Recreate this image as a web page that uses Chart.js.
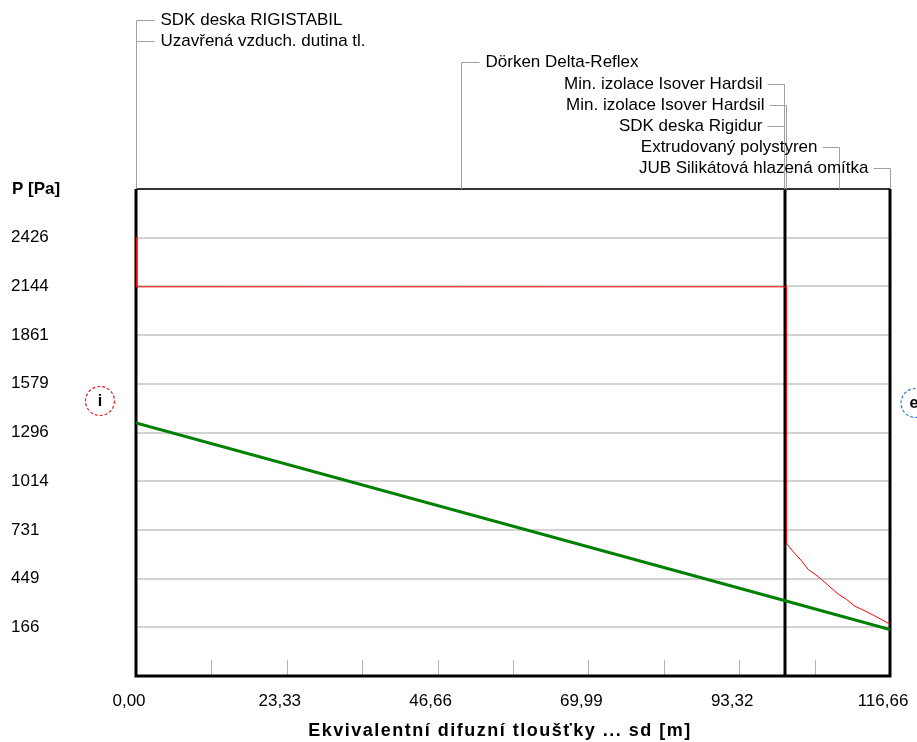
<!DOCTYPE html>
<html><head><meta charset="utf-8">
<script src="https://cdn.jsdelivr.net/npm/chart.js@4/dist/chart.umd.min.js"></script>
<style>html,body{margin:0;padding:0;background:#fff;overflow:hidden}#wrap{width:917px;height:742px;position:relative}</style>
</head><body><div id="wrap"><canvas id="c" width="917" height="742"></canvas></div>
<script>
// ---- data ----
const xTickValues = [0, 23.33, 46.66, 69.99, 93.32, 116.66];
const minorTickValues = [11.67, 23.33, 35.0, 46.66, 58.33, 69.99, 81.66, 93.32, 104.99];
const yTickValues = [166, 449, 731, 1014, 1296, 1579, 1861, 2144, 2426];
const saturatedSd = [0.1, 0.1, 100.65, 100.65, 101.7, 102.99, 104.02, 105.05, 106.09, 107.37, 108.67, 109.96, 111.25, 112.8, 114.08, 115.37, 116.66];
const saturatedP  = [2430, 2141, 2141, 652, 604, 551, 501, 474, 443, 400, 358, 327, 288, 261, 236, 211, 183];
const partialSd = [0, 100.45, 116.66];
const partialP  = [1352, 320, 153];
const boundarySd = [100.42];
const layerNames = ["SDK deska RIGISTABIL", "Uzavřená vzduch. dutina tl.", "Dörken Delta-Reflex",
  "Min. izolace Isover Hardsil", "Min. izolace Isover Hardsil", "SDK deska Rigidur",
  "Extrudovaný polystyren", "JUB Silikátová hlazená omítka"];
const layerMidSd = [0, 0, 50.28, 100.26, 100.57, 100.26, 108.7, 116.66];
const xTitle = "Ekvivalentní difuzní tloušťky ... sd [m]";
const yTitle = "P [Pa]";

const FONT = '"Liberation Sans", Arial, sans-serif';
const toPts = (xs, ys) => xs.map((x, i) => ({x: x, y: ys[i]}));

const decor = {
  id: 'decor',
  beforeDatasetsDraw(chart) {
    const ctx = chart.ctx, a = chart.chartArea, xs = chart.scales.x;
    ctx.save();
    ctx.strokeStyle = '#b4b4b4'; ctx.lineWidth = 1;
    minorTickValues.forEach(v => {
      const x = Math.round(xs.getPixelForValue(v)) + 0.5;
      ctx.beginPath(); ctx.moveTo(x, a.bottom - 16); ctx.lineTo(x, a.bottom); ctx.stroke();
    });
    ctx.strokeStyle = '#000'; ctx.lineWidth = 3;
    boundarySd.forEach(v => {
      const x = Math.round(xs.getPixelForValue(v));
      ctx.beginPath(); ctx.moveTo(x, a.top); ctx.lineTo(x, a.bottom); ctx.stroke();
    });
    ctx.strokeStyle = '#333'; ctx.lineWidth = 2;
    ctx.beginPath(); ctx.moveTo(a.left, a.top); ctx.lineTo(a.right, a.top); ctx.stroke();
    ctx.strokeStyle = '#000'; ctx.lineWidth = 3;
    ctx.beginPath(); ctx.moveTo(a.left, a.top); ctx.lineTo(a.left, a.bottom); ctx.lineTo(a.right, a.bottom); ctx.lineTo(a.right, a.top); ctx.stroke();
    ctx.restore();
  },
  afterDraw(chart) {
    const ctx = chart.ctx, a = chart.chartArea, xs = chart.scales.x;
    ctx.save();
    ctx.font = '17px ' + FONT; ctx.textBaseline = 'middle'; ctx.fillStyle = '#000';
    ctx.strokeStyle = '#a0a0a0'; ctx.lineWidth = 1;
    layerNames.forEach((name, i) => {
      const y = Math.round(20 + i * 21.2) + 0.5;
      const vx = Math.round(xs.getPixelForValue(layerMidSd[i])) + 0.5;
      const leftSide = i < 3;
      ctx.beginPath();
      ctx.moveTo(vx, a.top); ctx.lineTo(vx, y);
      if (leftSide) ctx.lineTo(vx + 18, y); else ctx.lineTo(vx - 17, y);
      ctx.stroke();
      if (leftSide) { ctx.textAlign = 'left'; ctx.fillText(name, vx + 24, y); }
      else { ctx.textAlign = 'right'; ctx.fillText(name, vx - 22, y); }
    });
    ctx.font = 'bold 17px ' + FONT; ctx.textAlign = 'left';
    ctx.fillText(yTitle, 12, a.top);
    ctx.font = 'bold 18px ' + FONT; ctx.textAlign = 'center';
    try { ctx.letterSpacing = '1.5px'; } catch (e) {}
    ctx.fillText(xTitle, 500, 731);
    try { ctx.letterSpacing = '0px'; } catch (e) {}
    ctx.setLineDash([3, 2]); ctx.lineWidth = 1.2;
    ctx.strokeStyle = '#e02020';
    ctx.beginPath(); ctx.arc(100, 401, 14.5, 0, Math.PI * 2); ctx.stroke();
    ctx.strokeStyle = '#2a78c8';
    ctx.beginPath(); ctx.arc(915.5, 403, 14.5, 0, Math.PI * 2); ctx.stroke();
    ctx.setLineDash([]);
    ctx.font = 'bold 16px ' + FONT; ctx.textAlign = 'center'; ctx.fillStyle = '#000';
    ctx.fillText('i', 100, 402);
    ctx.fillText('e', 914, 404);
    ctx.restore();
  }
};

new Chart(document.getElementById('c'), {
  type: 'line',
  data: {
    datasets: [
      { label: 'psat', data: toPts(saturatedSd, saturatedP), borderColor: '#ff0000', borderWidth: 1, pointRadius: 0, tension: 0, fill: false },
      { label: 'p', data: toPts(partialSd, partialP), borderColor: '#008000', borderWidth: 3, pointRadius: 0, tension: 0, fill: false }
    ]
  },
  options: {
    responsive: false, animation: false, devicePixelRatio: 1,
    layout: { padding: { left: 11, top: 189, right: 27, bottom: 0 } },
    plugins: { legend: { display: false }, tooltip: { enabled: false } },
    scales: {
      x: {
        type: 'linear', min: 0, max: 116.66,
        afterBuildTicks: s => { s.ticks = xTickValues.map(v => ({ value: v })); },
        afterFit: s => { s.height = 66; s.paddingLeft = 0; s.paddingRight = 0; },
        grid: { display: false, drawTicks: false }, border: { display: false },
        ticks: { autoSkip: false, maxRotation: 0, padding: 15, labelOffset: -7, color: '#000',
          font: { family: FONT, size: 17 },
          callback: v => Number(v).toFixed(2).replace('.', ',') }
      },
      y: {
        type: 'linear', min: -116.5, max: 2708.5,
        afterBuildTicks: s => { s.ticks = yTickValues.map(v => ({ value: v })); },
        afterFit: s => { s.width = 125; s.paddingTop = 0; s.paddingBottom = 0; },
        grid: { color: '#d2d2d2', lineWidth: 2, drawTicks: false }, border: { display: false },
        ticks: { crossAlign: 'far', color: '#000', font: { family: FONT, size: 17 },
          callback: v => String(v) }
      }
    }
  },
  plugins: [decor]
});
</script></body></html>
